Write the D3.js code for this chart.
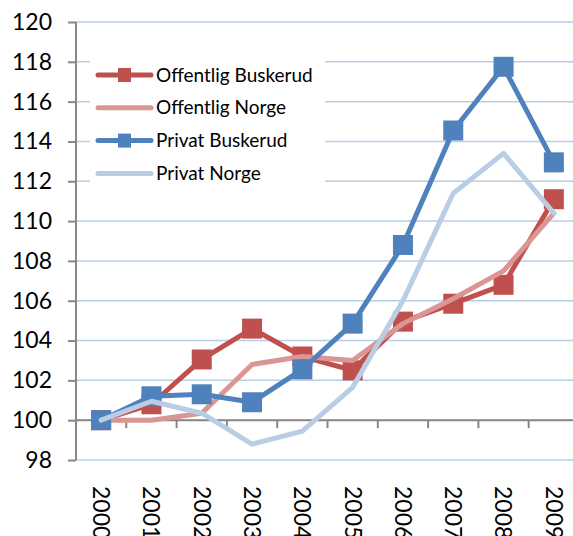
<!DOCTYPE html>
<html>
<head>
<meta charset="utf-8">
<script src="https://cdn.jsdelivr.net/npm/d3@7"></script>
<style>
  body { margin: 0; background: #fff; }
  svg { display: block; font-family: Lato, "Liberation Sans", sans-serif; }
</style>
</head>
<body>
<div id="chart"></div>
<script>
// Data
const years = ["2000", "2001", "2002", "2003", "2004", "2005", "2006", "2007", "2008", "2009"];
const offentligBuskerud = [100, 100.8, 103.05, 104.6, 103.2, 102.5, 104.95, 105.85, 106.8, 111.1];
const offentligNorge = [100, 100, 100.35, 102.8, 103.2, 103.0, 104.85, 106.1, 107.5, 110.4];
const privatBuskerud = [100, 101.2, 101.3, 100.9, 102.55, 104.85, 108.8, 114.55, 117.75, 112.95];
const privatNorge = [100, 100.95, 100.35, 98.8, 99.45, 101.65, 106.0, 111.4, 113.4, 110.4];
const yTicks = [98, 100, 102, 104, 106, 108, 110, 112, 114, 116, 118, 120];

const series = [
  { name: "Offentlig Buskerud", values: offentligBuskerud, color: "#c0504d", marker: true },
  { name: "Offentlig Norge", values: offentligNorge, color: "#d99694", marker: false },
  { name: "Privat Buskerud", values: privatBuskerud, color: "#4f81bd", marker: true },
  { name: "Privat Norge", values: privatNorge, color: "#b9cde5", marker: false }
];

const width = 573;
const height = 536;
const left = 76;
const step = 50.3;

const svg = d3.select("#chart")
  .append("svg")
  .attr("width", width)
  .attr("height", height);

// Scales (plot area runs past the right edge, as in the reference crop)
const x = d3.scaleBand().domain(years).range([left, left + step * years.length]);
const y = d3.scaleLinear().domain([98, 120]).range([460, 22]);
const cx = d => x(d) + x.bandwidth() / 2;

// Gridlines
svg.append("g")
  .selectAll("line")
  .data(yTicks)
  .join("line")
  .attr("x1", left)
  .attr("x2", width)
  .attr("y1", d => y(d))
  .attr("y2", d => y(d))
  .attr("stroke", "#b9cde5")
  .attr("stroke-width", 1.5);

// Y axis
const yAxis = svg.append("g")
  .attr("transform", `translate(${left},0)`)
  .call(d3.axisLeft(y).tickValues(yTicks).tickSize(8).tickPadding(16).tickFormat(d3.format("d")));
yAxis.selectAll("line, path").attr("stroke", "#878787").attr("stroke-width", 2);
yAxis.select(".domain").attr("d", `M0,${y(120)}V${y(98)}`);
yAxis.selectAll("text").attr("font-size", 23).attr("fill", "#000").attr("font-family", "Lato");

// X axis line crosses at 100, ticks between categories
const xAxis = svg.append("g").attr("transform", `translate(0,${y(100)})`);
xAxis.append("line")
  .attr("x1", left).attr("x2", width)
  .attr("stroke", "#878787").attr("stroke-width", 2);
xAxis.selectAll(".tick")
  .data(years.slice(1))
  .join("line")
  .attr("class", "tick")
  .attr("x1", d => x(d)).attr("x2", d => x(d))
  .attr("y1", 0).attr("y2", 8)
  .attr("stroke", "#878787").attr("stroke-width", 2);

// X labels at the bottom, rotated
svg.append("g")
  .selectAll("text")
  .data(years)
  .join("text")
  .attr("transform", d => `translate(${cx(d)},486) rotate(90)`)
  .attr("dy", "0.35em")
  .attr("font-size", 23)
  .text(d => d);

// Lines
const line = d3.line()
  .x((d, i) => cx(years[i]))
  .y(d => y(d));

series.forEach(s => {
  const g = svg.append("g");
  g.append("path")
    .datum(s.values)
    .attr("fill", "none")
    .attr("stroke", s.color)
    .attr("stroke-width", 5)
    .attr("stroke-linejoin", "round")
    .attr("stroke-linecap", "round")
    .attr("d", line);
  if (s.marker) {
    g.selectAll("rect")
      .data(s.values)
      .join("rect")
      .attr("x", (d, i) => cx(years[i]) - 10)
      .attr("y", d => y(d) - 10)
      .attr("width", 20)
      .attr("height", 20)
      .attr("fill", s.color);
  }
});

// Legend
const legend = svg.append("g");
legend.append("rect")
  .attr("x", 90).attr("y", 47)
  .attr("width", 235).attr("height", 150)
  .attr("fill", "#fff");

const rows = legend.selectAll("g")
  .data(series)
  .join("g")
  .attr("transform", (d, i) => `translate(0,${75 + i * 32.8})`);

rows.append("line")
  .attr("x1", 98).attr("x2", 151)
  .attr("stroke", d => d.color)
  .attr("stroke-width", 5)
  .attr("stroke-linecap", "round");

rows.filter(d => d.marker)
  .append("rect")
  .attr("x", 118).attr("y", -7)
  .attr("width", 13).attr("height", 14)
  .attr("fill", d => d.color);

rows.append("text")
  .attr("x", 156)
  .attr("dy", "0.35em")
  .attr("font-size", 19)
  .text(d => d.name);
</script>
</body>
</html>
